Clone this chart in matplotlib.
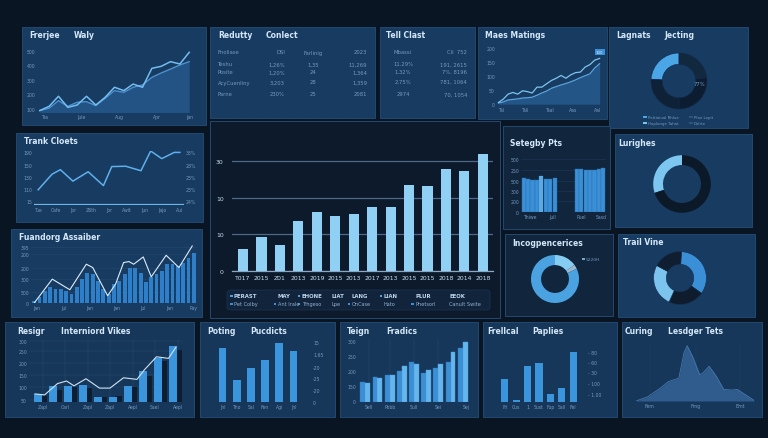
import matplotlib.pyplot as plt
import numpy as np
from matplotlib.patches import Rectangle, FancyBboxPatch

# ---- data -------------------------------------------------------------
# top-left "Frerjee Waly"
frerjee_a = [89, 118, 187, 111, 127, 187, 127, 180, 249, 226, 271, 249, 379, 393, 425, 409, 489]
frerjee_b = [89, 105, 157, 118, 146, 150, 123, 173, 226, 214, 249, 265, 317, 347, 374, 402, 425]
frerjee_xlabels = ['Tas', 'Jule', 'Aug', 'Apr', 'Jan']
frerjee_ylabels = ['100', '200', '300', '400', '500']

# tables
redutty_header = ['Fnoliase', 'DSI', 'Farlinig', '2023']
redutty_rows = [['Teshu', '1,26%', '1,35', '11,269'],
                ['Posite', '1,20%', '24', '1,364'],
                ['AcyCuenliny', '3,203', '28', '1,359'],
                ['Parne', '230%', '25', '2081']]
tell_header = ['Mbassi', 'Cil  752']
tell_rows = [['11.29%', '191, 2615'],
             ['1.32%', '7%. 8196'],
             ['2.75%', '781, 1064'],
             ['2974', '70, 1054']]

# "Maes Matings"
maes_a = [6, 18, 36, 42, 36, 48, 45, 40, 61, 61, 73, 85, 93, 103, 93, 105, 113, 115, 133, 142, 158, 164]
maes_b = [4, 8, 15, 17, 19, 22, 23, 25, 32, 40, 47, 57, 63, 69, 74, 80, 87, 95, 102, 109, 130, 145]
maes_xlabels = ['Tal', 'Tali', 'Taal', 'Aas', 'Aal']
maes_ylabels = ['0', '50', '100', '150', '200']

# donuts
lagnats_vals = [24, 26, 27, 23]
lagnats_legend = ['Pettioiual Rhlue', 'Huplonge Tahat', 'Plae Lopit', 'Dalrte']
lurighes_vals = [30, 70]
incog_vals = [15, 3, 82]
trail_vals = [34, 22, 26, 18]

# "Trank Cloets"
trank_x = [0, 1.0, 1.6, 2.5, 3.6, 4.7, 5.3, 6.3, 7.4, 8.1, 8.9, 9.8, 10.2]
trank_y = [40, 85, 98, 65, 92, 52, 107, 108, 95, 152, 130, 148, 148]
trank_xlabels = ['Tue', 'Cafe', 'Jor', 'Z6th', 'Jor', 'Awit', 'Jun', 'Jajo', 'Aui']
trank_left = ['15', '110', '130', '150', '190']
trank_right = ['24%', '23%', '23%', '28%', '33%']

# "Fuandorg Assaiber"
fuan_bars = [7, 17, 37, 47, 42, 42, 37, 27, 47, 72, 92, 87, 67, 42, 27, 57,
             67, 87, 107, 107, 92, 62, 77, 87, 97, 117, 117, 112, 122, 137, 152]
fuan_line_x = [0, 3.4, 6.7, 9.8, 11, 13.8, 15.3, 16.8, 17.8, 18.7, 20.5, 22, 24.8, 27.2, 29.7]
fuan_line_y = [0, 72, 40, 117, 107, 22, 57, 122, 125, 117, 139, 79, 144, 107, 172]
fuan_xlabels = ['Jan', 'Jul', 'Jan', 'Jan', 'Jul', 'Jan', 'Pay']
fuan_ylabels = ['0', '500', '300', '200', '200', '395']

# centre bar chart
main_years = ['T017', '2015', 'Z01', '2013', '2019', '2015', '2013',
              '2017', '2013', '2015', '2015', '2018', '2014', '2018']
main_vals = [6.0, 9.3, 7.2, 13.6, 16.2, 15.0, 15.5, 17.6, 17.5, 23.5, 23.1, 27.9, 27.3, 31.8]
main_ylabels = ['0', '10', '10', '30']
main_legend_top = ['PERAST', 'MAY', 'EHONE', 'LIAT', 'LANG', 'LIAN', 'PLUR', 'EEOK']
main_legend_bot = ['Pet Colby', 'Ant Irale', 'Trhgeso', 'Lpe', 'OnCase', 'Hato', 'Phetsorl', 'Canult Swite']

# "Setegby Pts"
seteg_a = [102, 98, 95, 95, 108, 100, 100, 102]
seteg_b = [130, 128, 127, 125, 127, 130, 133]
seteg_xlabels = ['Thiwe', 'Jull', 'Puel', 'Sasd']
seteg_ylabels = ['0', '200', '300', '500', '250', '500']

# bottom row
resigr_bars = [25, 50, 50, 53, 15, 17, 50, 95, 135, 172]
resigr_shadow = [20, 38, 45, 42, 14, 18, 45, 82, 128, 162]
resigr_line_x = [-0.2, 0.44, 1.3, 1.9, 2.4, 3.2, 4.1, 4.8, 5.7, 6.6, 7.1, 7.9, 8.7, 9.2]
resigr_line_y = [25, 22, 57, 65, 50, 72, 43, 43, 75, 70, 100, 140, 135, 170]
resigr_xlabels = ['Zapl', 'Carl', 'Zapl', 'Zapl', 'Aepl', 'Sael', 'Aepl']
resigr_ylabels = ['50', '100', '150', '200', '250', '300']

poting_vals = [153, 62, 97, 119, 167, 145]
poting_xlabels = ['Jnl', 'Tho', 'Sal', 'Fen', 'Agi', 'Jnl']
poting_ylabels = ['0', '-20', '-25', '-20', '1.65', '15']

teign_back = [60, 74, 80, 94, 122, 87, 102, 122, 164]
teign_front = [58, 72, 80, 109, 114, 97, 114, 150, 180]
teign_xlabels = ['Sell', 'Pobb', 'Sull', 'Sei', 'Sej']
teign_ylabels = ['0', '150', '200', '250', '300']

frell_vals = [70, 7, 110, 119, 25, 42, 152]
frell_xlabels = ['Fri', 'Cus', '1', 'Sust', 'Fup', 'Sall', 'Fel']
frell_ylabels = ['- 1.00', '- 100', '- 30', '- 60', '- 80']

curing_x = [0, 11, 23, 31, 41, 46, 49, 54, 61, 64, 70, 77, 84, 92, 97, 103, 113]
curing_y = [0, 12, 37, 57, 67, 142, 162, 132, 77, 82, 102, 72, 34, 32, 34, 22, 2]
curing_xlabels = ['Fem', 'Fmg', 'Bmt']

# ---- style ------------------------------------------------------------
W, H = 768, 439
BG = '#0a1524'
PANEL = '#183b61'
PANEL_LOW = '#16375a'
PANEL_DARK = '#0c1a2c'
EDGE = '#22496f'
TITLE = '#d4e7f8'
TICK = '#7499bf'
BAR = '#3a8fd6'
BAR_LIGHT = '#8fd0f4'
GRID = '#25496e'

fig = plt.figure(figsize=(W / 100, H / 100), dpi=100)
fig.patch.set_facecolor(BG)


def frac(x0, y0, x1, y1):
    return [x0 / W, 1 - y1 / H, (x1 - x0) / W, (y1 - y0) / H]


def panel(x0, y0, x1, y1, color=PANEL):
    fig.patches.append(Rectangle((x0 / W, 1 - y1 / H), (x1 - x0) / W, (y1 - y0) / H,
                                 transform=fig.transFigure, facecolor=color,
                                 edgecolor=EDGE, lw=0.7, zorder=-1))


def label(x, y, s, size=5.5, color=TITLE, weight='bold', ha='left'):
    fig.text(x / W, 1 - y / H, s, fontsize=size, color=color,
             fontweight=weight, ha=ha, va='center')


def square(x, y, c='#3a8fd6', w=3.5, h=2.6):
    fig.patches.append(Rectangle(((x - w - 1.5) / W, 1 - (y + h / 2) / H), w / W, h / H,
                                 transform=fig.transFigure, fc=c, ec='none'))


def data_ax(x0, y0, x1, y1, size=3.3):
    ax = fig.add_axes(frac(x0, y0, x1, y1))
    ax.set_facecolor('none')
    for s in ax.spines.values():
        s.set_visible(False)
    ax.tick_params(colors=TICK, labelsize=size, length=0, pad=1.5)
    return ax


# ---- panels -----------------------------------------------------------
panel(22, 28, 206, 126)
panel(210, 28, 375, 119)
panel(380, 28, 475, 119)
panel(478, 28, 607, 120)
panel(609, 28, 748, 129)
panel(16, 134, 203, 223)
panel(11, 230, 202, 318)
panel(210, 122, 500, 319, PANEL_DARK)
panel(503, 127, 610, 230, '#11253d')
panel(615, 135, 752, 228)
panel(505, 235, 613, 317, '#11253d')
panel(618, 235, 755, 318)
panel(5, 323, 194, 418, PANEL_LOW)
panel(200, 323, 335, 418, PANEL_LOW)
panel(340, 323, 478, 418, PANEL_LOW)
panel(483, 323, 617, 418, PANEL_LOW)
panel(622, 323, 762, 418, PANEL_LOW)

# ---- Frerjee Waly -----------------------------------------------------
label(29, 36, 'Frerjee')
label(74, 36, 'Waly')
ax = data_ax(37, 50, 192, 113)
xs = np.arange(len(frerjee_a))
ax.fill_between(xs, frerjee_b, 0, color='#2b67a2', alpha=0.55, lw=0)
ax.plot(xs, frerjee_b, color='#4d92d0', lw=1.0)
ax.plot(xs, frerjee_a, color='#72bdf0', lw=1.1)
ax.set_xlim(-0.3, 16.3)
ax.set_ylim(79, 512)
ax.set_xticks([0.5, 4.5, 8.5, 12.5, 16])
ax.set_xticklabels(frerjee_xlabels)
ax.set_yticks([100, 200, 300, 400, 500])
ax.set_yticklabels(frerjee_ylabels)

# ---- Redutty table ----------------------------------------------------
label(218, 35, 'Redutty')
label(266, 35, 'Conlect')
cols = [(218, 'left'), (285, 'right'), (313, 'center'), (367, 'right')]
for (cx, ha), s in zip(cols, redutty_header):
    label(cx, 53, s, size=3.8, color=TICK, weight='normal', ha=ha)
for ry, row in zip([65, 73, 83, 95], redutty_rows):
    for (cx, ha), s in zip(cols, row):
        label(cx, ry, s, size=3.8, color=TICK, weight='normal', ha=ha)

# ---- Tell Clast table -------------------------------------------------
label(386, 36, 'Tell Clast')
label(403, 53, tell_header[0], size=3.8, color=TICK, weight='normal', ha='center')
label(467, 53, tell_header[1], size=3.8, color=TICK, weight='normal', ha='right')
for ry, row in zip([65, 73, 82, 95], tell_rows):
    label(403, ry, row[0], size=3.8, color=TICK, weight='normal', ha='center')
    label(467, ry, row[1], size=3.8, color=TICK, weight='normal', ha='right')

# ---- Maes Matings -----------------------------------------------------
label(485, 36, 'Maes Matings')
ax = data_ax(497, 48, 602, 106)
xs = np.arange(len(maes_a))
ax.fill_between(xs, maes_b, 0, color='#2b67a2', alpha=0.6, lw=0)
ax.plot(xs, maes_b, color='#5aa3dd', lw=0.9)
ax.plot(xs, maes_a, color='#7cc4f0', lw=0.9)
ax.text(xs[-1], maes_a[-1] + 22, '100', fontsize=2.8, color='#d9ecfb', ha='center', va='center',
        bbox=dict(boxstyle='square,pad=0.3', fc='#3a8fd6', ec='none'))
ax.set_xlim(-0.3, 21.5)
ax.set_ylim(-3, 205)
ax.set_xticks([0.5, 5.5, 10.5, 15.5, 20.5])
ax.set_xticklabels(maes_xlabels)
ax.set_yticks([0, 50, 100, 150, 200])
ax.set_yticklabels(maes_ylabels)

# ---- Lagnats Jecting donut -------------------------------------------
label(616, 36, 'Lagnats')
label(664, 36, 'Jecting')
ax = fig.add_axes(frac(644, 47, 714, 117))
ax.pie(lagnats_vals, startangle=90, colors=['#4aa6e6', '#0f2137', '#0d1d31', '#12283f'],
       wedgeprops=dict(width=0.4, edgecolor='#12294a', lw=0.4))
ax.text(0.72, -0.1, '77%', fontsize=3.8, color=TICK, ha='center', va='center')
ax.set_aspect('equal')
for (lx, ly), s, c in zip([(648, 118), (648, 124), (694, 118), (694, 124)], lagnats_legend,
                          ['#4aa6e6', '#7cc4f0', '#2c5478', '#2c5478']):
    square(lx, ly, c, w=4)
    label(lx, ly, s, size=2.8, color=TICK, weight='normal')

# ---- Trank Cloets -----------------------------------------------------
label(24, 142, 'Trank Cloets')
ax = data_ax(34, 152, 184, 206)
ax.plot(trank_x, trank_y, color='#5eb0ec', lw=1.1)
ax.axhline(0, color='#6fb6e8', lw=0.9)
ax.set_xlim(-0.3, 10.5)
ax.set_ylim(-4, 152)
ax.set_yticks([7, 42, 78, 113, 148])
ax.set_yticklabels(trank_left)
ax.set_xticks(np.linspace(0, 10.2, 9))
ax.set_xticklabels(trank_xlabels)
ax2 = ax.twinx()
for s in ax2.spines.values():
    s.set_visible(False)
ax2.set_ylim(ax.get_ylim())
ax2.set_yticks([7, 42, 78, 113, 148])
ax2.set_yticklabels(trank_right)
ax2.tick_params(colors=TICK, labelsize=3.3, length=0, pad=1.5)

# ---- Fuandorg Assaiber ------------------------------------------------
label(19, 238, 'Fuandorg Assaiber')
ax = data_ax(31, 246, 197, 304)
xs = np.arange(len(fuan_bars))
ax.bar(xs, fuan_bars, width=0.72, color='#2f7fc8')
ax.plot(fuan_line_x, fuan_line_y, color='#d9ecfb', lw=0.8)
ax.set_xlim(-0.6, 30.6)
ax.set_ylim(0, 175)
ax.set_yticks([0, 32, 72, 107, 147, 169])
ax.set_yticklabels(fuan_ylabels)
ax.yaxis.grid(True, color=GRID, lw=0.4)
ax.set_axisbelow(True)
ax.set_xticks([0.5, 5.5, 10.5, 15.5, 20.5, 25.5, 30])
ax.set_xticklabels(fuan_xlabels)

# ---- centre bar chart -------------------------------------------------
ax = data_ax(232, 150, 493, 272, size=4.4)
xs = np.arange(len(main_vals))
ax.bar(xs, main_vals, width=0.55, color=BAR_LIGHT, zorder=3)
ax.set_xlim(-0.6, 13.55)
ax.set_ylim(0, 33.3)
ax.set_yticks([0, 10, 20, 30])
ax.set_yticklabels(main_ylabels, color='#c6ddf0')
ax.yaxis.grid(True, color='#4d6985', lw=0.9)
ax.set_axisbelow(True)
ax.spines['bottom'].set_visible(True)
ax.spines['bottom'].set_color('#8aa6c2')
ax.spines['bottom'].set_linewidth(0.9)
ax.set_xticks(xs)
ax.set_xticklabels(main_years, color='#c6ddf0')
ax.tick_params(axis='x', pad=3)
ax.tick_params(axis='y', pad=6)
fig.patches.append(FancyBboxPatch((227 / W, 1 - 311 / H), 263 / W, 20 / H,
                                  boxstyle='round,pad=0,rounding_size=0.006',
                                  transform=fig.transFigure, fc='#12243b', ec='#1c3553', lw=0.5))
leg_x = [234, 278, 302, 331, 352, 384, 415, 449]
for i, (lx, s1, s2) in enumerate(zip(leg_x, main_legend_top, main_legend_bot)):
    if i in (0, 2, 5):
        square(lx, 297, '#4aa3e6', w=2.6, h=2.6)
    label(lx, 297, s1, size=3.9, color='#bcd6ee', weight='bold')
    if i in (0, 1, 2, 4, 6):
        square(lx, 305, '#3a8fd6', w=2.6, h=2.6)
    label(lx, 305, s2, size=3.6, color='#8fb2d4', weight='normal')

# ---- Setegby Pts ------------------------------------------------------
label(510, 143, 'Setegby Pts')
ax = data_ax(521, 158, 606, 213)
xa = np.arange(len(seteg_a))
xb = np.arange(len(seteg_b)) + 12
ax.bar(xa, seteg_a, width=0.92, color=BAR, edgecolor='#2a6fae', lw=0.3)
ax.bar([4], [seteg_a[4]], width=0.92, color='#5aaae6')
ax.bar(xb, seteg_b, width=0.92, color=BAR, edgecolor='#2a6fae', lw=0.3)
ax.set_xlim(-0.6, 18.6)
ax.set_ylim(0, 165)
ax.set_yticks([0, 32, 63, 93, 125, 160])
ax.set_yticklabels(seteg_ylabels)
ax.yaxis.grid(True, color='#1d3a5a', lw=0.4)
ax.set_axisbelow(True)
ax.set_xticks([1.5, 6.5, 13, 17.5])
ax.set_xticklabels(seteg_xlabels)

# ---- Lurighes donut ---------------------------------------------------
label(618, 143, 'Lurighes')
ax = fig.add_axes(frac(646, 149, 718, 221))
ax.pie(lurighes_vals, startangle=90, counterclock=True, colors=['#7cc6f0', '#0c1929'],
       wedgeprops=dict(width=0.34, edgecolor='none'))
ax.set_aspect('equal')

# ---- Incogpencerices donut --------------------------------------------
label(512, 244, 'Incogpencerices')
ax = fig.add_axes(frac(525, 250, 585, 310))
ax.pie(incog_vals, startangle=90, counterclock=False,
       colors=['#86cdf2', '#9cb9cf', '#4aa3e0'],
       wedgeprops=dict(width=0.42, edgecolor='none'))
ax.set_aspect('equal')
square(586, 260, '#7aa6c8', w=2.4, h=2.4)
label(586, 260, '5220H', size=3.2, color=TICK, weight='normal')

# ---- Trail Vine donut -------------------------------------------------
label(623, 243, 'Trail Vine')
ax = fig.add_axes(frac(647, 246, 713, 312))
ax.pie(trail_vals, startangle=87, counterclock=False,
       colors=['#3a8fd6', '#0e1c2e', '#7cc3ee', '#0f1e31'],
       wedgeprops=dict(width=0.48, edgecolor='#15304f', lw=0.4))
ax.set_aspect('equal')

# ---- Resigr Interniord Vikes ------------------------------------------
label(17, 332, 'Resigr')
label(61, 332, 'Interniord Vikes')
ax = data_ax(29, 340, 182, 403)
xs = np.arange(len(resigr_bars))
ax.bar(xs + 0.38, resigr_shadow, width=0.5, color='#0d1e33', zorder=2)
ax.bar(xs, resigr_bars, width=0.5, color='#3b95dc', zorder=3)
ax.plot(resigr_line_x, resigr_line_y, color='#cfe3f5', lw=0.8, zorder=4)
ax.set_xlim(-0.6, 9.6)
ax.set_ylim(0, 195)
ax.set_yticks([7, 47, 85, 122, 157, 190])
ax.set_yticklabels(resigr_ylabels)
ax.grid(True, color=GRID, lw=0.35)
ax.set_axisbelow(True)
ax.set_xticks(np.linspace(0.3, 9.3, 7))
ax.set_xticklabels(resigr_xlabels)

# ---- Poting Pucdicts --------------------------------------------------
label(207, 332, 'Poting')
label(250, 332, 'Pucdicts')
ax = data_ax(214, 340, 302, 403)
xs = np.arange(len(poting_vals))
ax.bar(xs, poting_vals, width=0.55, color='#3b95dc')
ax.set_xlim(-0.6, 5.6)
ax.set_ylim(0, 178)
ax.yaxis.tick_right()
ax.set_yticks([0, 33, 67, 100, 135, 170])
ax.set_yticklabels(poting_ylabels)
ax.tick_params(axis='y', pad=8)
ax.set_xticks(xs)
ax.set_xticklabels(poting_xlabels)

# ---- Teign Fradics ----------------------------------------------------
label(347, 332, 'Teign')
label(386, 332, 'Fradics')
ax = data_ax(358, 340, 470, 403)
xs = np.arange(len(teign_back))
ax.bar(xs - 0.2, teign_back, width=0.4, color='#3c8fd4', edgecolor='#2d78bb', lw=0.3)
ax.bar(xs + 0.2, teign_front, width=0.4, color='#66b6ee', edgecolor='#4a9fdf', lw=0.3)
ax.set_xlim(-0.6, 8.6)
ax.set_ylim(0, 190)
ax.set_yticks([4, 49, 94, 140, 184])
ax.set_yticklabels(teign_ylabels)
ax.xaxis.grid(True, color=GRID, lw=0.35)
ax.set_axisbelow(True)
ax.set_xticks([0.3, 2, 4, 6, 8.3])
ax.set_xticklabels(teign_xlabels)

# ---- Frellcal Paplies -------------------------------------------------
label(487, 332, 'Frellcal')
label(532, 332, 'Paplies')
ax = data_ax(498, 340, 580, 403)
xs = np.arange(len(frell_vals))
ax.bar(xs, frell_vals, width=0.62, color='#3b95dc')
ax.set_xlim(-0.6, 6.6)
ax.set_ylim(0, 190)
ax.yaxis.tick_right()
ax.set_yticks([25, 57, 90, 120, 152])
ax.set_yticklabels(frell_ylabels)
ax.tick_params(axis='y', pad=6)
ax.set_xticks(xs)
ax.set_xticklabels(frell_xlabels)

# ---- Curing Lesdger Tets ----------------------------------------------
label(625, 332, 'Curing')
label(668, 332, 'Lesdger Tets')
ax = data_ax(636, 344, 754, 402)
ax.fill_between(curing_x, curing_y, 0, color='#2f5c8c', lw=0)
ax.plot(curing_x, curing_y, color='#4678ab', lw=0.6)
ax.set_xlim(0, 113)
ax.set_ylim(0, 170)
ax.set_yticks([])
ax.xaxis.grid(True, color='#1f4266', lw=0.35)
ax.set_axisbelow(True)
ax.set_xticks([13, 57, 100])
ax.set_xticklabels(curing_xlabels)

fig.savefig('out.png', dpi=100, facecolor=BG)
